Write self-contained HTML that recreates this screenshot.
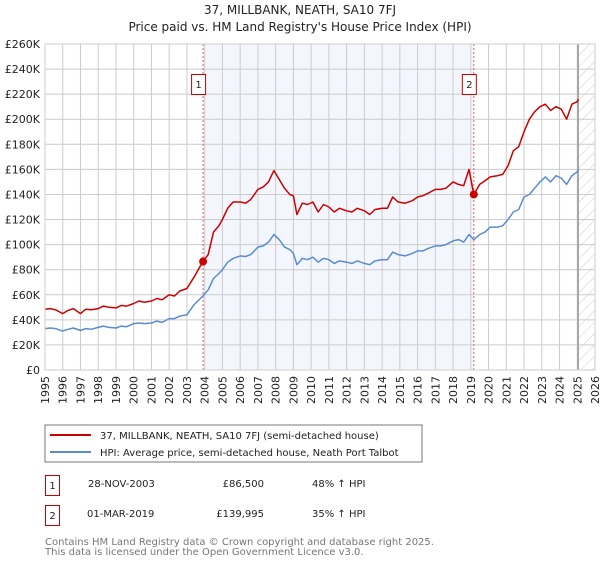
<!DOCTYPE html>
<html><head><meta charset="utf-8"><style>
body{margin:0;background:#fff;width:600px;height:560px;overflow:hidden;font-family:"DejaVu Sans","Liberation Sans",sans-serif}
svg text{font-family:"DejaVu Sans","Liberation Sans",sans-serif}
</style></head><body>
<svg id="chart" width="600" height="560" xmlns="http://www.w3.org/2000/svg">
<defs><pattern id="hatch" patternUnits="userSpaceOnUse" width="8" height="8" patternTransform="rotate(45)"><line x1="0" y1="0" x2="0" y2="8" stroke="#ccc" stroke-width="1"/></pattern></defs>
<text x="300" y="14" text-anchor="middle" font-size="12" fill="#222">37, MILLBANK, NEATH, SA10 7FJ</text>
<text x="300" y="31" text-anchor="middle" font-size="12" fill="#222">Price paid vs. HM Land Registry's House Price Index (HPI)</text>
<g id="plot"></g>
<g>
<rect x="45" y="425" width="377" height="37" fill="#fff" stroke="#777"/>
<line x1="50" y1="435" x2="91" y2="435" stroke="#cc0000" stroke-width="2"/>
<text x="100" y="439" font-size="10" fill="#222">37, MILLBANK, NEATH, SA10 7FJ (semi-detached house)</text>
<line x1="50" y1="452" x2="91" y2="452" stroke="#5b8bd0" stroke-width="2"/>
<text x="100" y="456" font-size="10" fill="#222">HPI: Average price, semi-detached house, Neath Port Talbot</text>
</g>
<g font-size="10" fill="#222">
<rect x="45.5" y="475.5" width="14" height="20" fill="none" stroke="#cc0000"/>
<text x="52.5" y="489" text-anchor="middle">1</text>
<text x="88" y="487">28-NOV-2003</text>
<text x="264" y="487" text-anchor="end">£86,500</text>
<text x="312" y="487">48% ↑ HPI</text>
</g>
<g font-size="10" fill="#222">
<rect x="45.5" y="505.5" width="14" height="20" fill="none" stroke="#cc0000"/>
<text x="52.5" y="519" text-anchor="middle">2</text>
<text x="87" y="517">01-MAR-2019</text>
<text x="264" y="517" text-anchor="end">£139,995</text>
<text x="312" y="517">35% ↑ HPI</text>
</g>
<text x="45" y="545" font-size="10" fill="#777">Contains HM Land Registry data © Crown copyright and database right 2025.</text>
<text x="45" y="555" font-size="10" fill="#777">This data is licensed under the Open Government Licence v3.0.</text>
</svg>
<script>
const yearTicks=[1995,1996,1997,1998,1999,2000,2001,2002,2003,2004,2005,2006,2007,2008,2009,2010,2011,2012,2013,2014,2015,2016,2017,2018,2019,2020,2021,2022,2023,2024,2025,2026];
const valueTicks=[0,20000,40000,60000,80000,100000,120000,140000,160000,180000,200000,220000,240000,260000];
const valueTickLabels=["£0","£20K","£40K","£60K","£80K","£100K","£120K","£140K","£160K","£180K","£200K","£220K","£240K","£260K"];
const dates=[1995,1995.3,1995.6,1996,1996.3,1996.6,1997,1997.3,1997.6,1998,1998.3,1998.6,1999,1999.3,1999.6,2000,2000.3,2000.6,2001,2001.3,2001.6,2002,2002.3,2002.6,2003,2003.4,2003.9,2004.2,2004.5,2004.8,2005,2005.3,2005.6,2006,2006.3,2006.6,2007,2007.3,2007.6,2007.9,2008.2,2008.5,2008.8,2009.0,2009.2,2009.5,2009.8,2010.1,2010.4,2010.7,2011,2011.3,2011.6,2012,2012.3,2012.6,2013,2013.3,2013.6,2014,2014.3,2014.6,2014.9,2015.3,2015.7,2016,2016.3,2016.6,2017,2017.3,2017.6,2018,2018.3,2018.6,2018.9,2019.17,2019.5,2019.8,2020.1,2020.5,2020.8,2021.1,2021.4,2021.7,2022,2022.3,2022.6,2022.9,2023.2,2023.5,2023.8,2024.1,2024.4,2024.7,2025,2025.05];
const hpiValues=[33,33.5,33,31,32.5,33.5,31.5,33,32.5,34,35,34,33.5,35,34.5,37,37.5,37,37.5,39,38,41,41,43,44,52,59,64,73,77,80,86,89,91,90.5,92,98,99,102,108,104,98,96,93,84,89,88,90,86,89,88,85,87,86,85,87,85,84,87,88,88,94,92,91,93,95,95,97,99,99,100,103,104,102,108,104,108,110,114,114,115,120,126,128,138,140,145,150,154,150,155,153,148,155,158,160];
const priceValues=[48.5,49,48,45,47.5,49,45,48.5,48,49,51,50,49.5,51.5,51,53,55,54,55,57,56,60,59,63,65,74,86.5,92,110,115,120,129,134,134,133,136,144,146,150,159,152,145,140,139,124,133,132,134,126,132,130,126,129,127,126,129,127,124,128,129,129,138,134,133,135,138,139,141,144,144,145,150,148,147,160,140,148,151,154,155,156,163,175,178,190,200,206,210,212,207,210,208,200,212,214,216];
const sales=[{date:2003.91,value:86500,label:"1"},{date:2019.17,value:139995,label:"2"}];
const NS="http://www.w3.org/2000/svg";
const X0=45,X1=595,Y0=370,Y1=44;
const xs=d=>X0+(d-1995)/(2026-1995)*(X1-X0);
const ys=v=>Y0-v/260000*(Y0-Y1);
const plot=document.getElementById('plot');
function mk(tag,attrs,parent){const e=document.createElementNS(NS,tag);for(const k in attrs)e.setAttribute(k,attrs[k]);(parent||plot).appendChild(e);return e;}
let r=mk('rect',{x:xs(sales[0].date),y:Y1,width:xs(sales[1].date)-xs(sales[0].date),height:Y0-Y1,fill:'#eef3fc',opacity:0.7});


let h=mk('rect',{x:xs(2025.05),y:Y1,width:X1-xs(2025.05),height:Y0-Y1,fill:'url(#hatch)'});


valueTicks.forEach((v,i)=>{
  const l=mk('line',{x1:X0,x2:X1,y1:ys(v),y2:ys(v),stroke:'#ccc'});
  
  
  const t=mk('text',{x:X0-5,y:ys(v)+4,'text-anchor':'end','font-size':'11',fill:'#222'});
  t.textContent=valueTickLabels[i];
  
  
});
yearTicks.forEach(y=>{
  const l=mk('line',{x1:xs(y),x2:xs(y),y1:Y1,y2:Y0,stroke:'#ccc'});
  
  
  const t=mk('text',{x:0,y:0,'font-size':'11',fill:'#222','text-anchor':'end',transform:`translate(${xs(y)+4},${Y0+6}) rotate(-90)`});
  t.textContent=y;
  
  
});
let ed=mk('line',{x1:xs(2025.05),x2:xs(2025.05),y1:Y1,y2:Y0,stroke:'#999','stroke-width':1.5});


function path(vals,color,name){
  const d=vals.map((v,i)=>(i?'L':'M')+xs(dates[i]).toFixed(1)+','+ys(v*1000).toFixed(1)).join('');
  const p=mk('path',{d:d,fill:'none',stroke:color,'stroke-width':1.5,'stroke-linejoin':'round'});
  
  
}
sales.forEach(s=>{
  const l=mk('line',{x1:xs(s.date),x2:xs(s.date),y1:Y1,y2:Y0,stroke:'#e06060','stroke-dasharray':'2,2'});
  
  
});
path(hpiValues,'#5b8bd0','hpi-line');
path(priceValues,'#cc0000','price-paid-line');
sales.forEach(s=>{
  const c=mk('circle',{cx:xs(s.date),cy:ys(s.value),r:4,fill:'#cc0000'});
  
  
  const g=mk('rect',{x:xs(s.date)-11.5,y:74.5,width:14,height:20,fill:'#fff',stroke:'#cc0000'});
  
  
  const t=mk('text',{x:xs(s.date)-4.5,y:88,'text-anchor':'middle','font-size':'10',fill:'#222'});
  t.textContent=s.label;
  
  
});
let b=mk('rect',{x:X0,y:Y1,width:X1-X0,height:Y0-Y1,fill:'none',stroke:'#ccc'});


</script>
</body></html>
